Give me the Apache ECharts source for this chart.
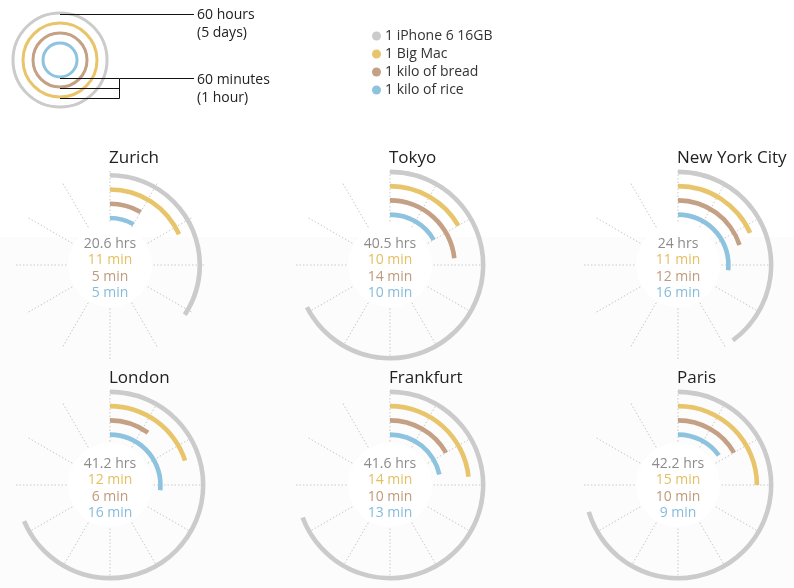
<!DOCTYPE html>
<html>
<head>
<meta charset="utf-8">
<script src="https://cdn.jsdelivr.net/npm/echarts@6/dist/echarts.min.js"></script>
<style>html,body{margin:0;padding:0;background:#fff}#c{width:794px;height:588px}</style>
</head>
<body>
<div id="c"></div>
<script>
// ---- data ----
const cities = ['Zurich', 'Tokyo', 'New York City', 'London', 'Frankfurt', 'Paris'];
const iphoneHours = [20.6, 40.5, 24, 41.2, 41.6, 42.2];
const bigMacMin = [11, 10, 11, 12, 14, 15];
const breadMin = [5, 14, 12, 6, 10, 10];
const riceMin = [5, 10, 16, 16, 13, 9];
const itemNames = ['1 iPhone 6 16GB', '1 Big Mac', '1 kilo of bread', '1 kilo of rice'];
const ringCats = ['rice', 'bread', 'bigmac', 'iphone'];   // inner -> outer
const scaleMax = 60;          // 60 hours for iPhone, 60 minutes for the rest
const keyTexts = [['60 hours', '(5 days)'], ['60 minutes', '(1 hour)']];

// ---- styling / layout ----
const colors = { iphone: '#cbcbcb', bigmac: '#e8c56b', bread: '#c4a085', rice: '#8dc3df' };
const textColors = { iphone: '#8c8c8c', bigmac: '#e3bf62', bread: '#bf9a7c', rice: '#86bcda' };
const centers = [[110, 265], [390, 265], [678, 265], [110, 485], [390, 485], [678, 485]];
const FONT = '"Open Sans", "Noto Sans", sans-serif';

const chart = echarts.init(document.getElementById('c'), null, { renderer: 'canvas' });

const polar = [], angleAxis = [], radiusAxis = [], series = [], graphic = [];

// background lower band + white discs
graphic.push({ type: 'rect', z: -2, shape: { x: 0, y: 237, width: 794, height: 351 }, style: { fill: '#fcfcfc' }, silent: true });
centers.forEach(c => graphic.push({ type: 'circle', z: -1, shape: { cx: c[0], cy: c[1], r: 42 }, style: { fill: '#ffffff' }, silent: true }));

// spoke polars (0..5)
centers.forEach((c, i) => {
  polar.push({ center: c, radius: [43, 94] });
  angleAxis.push({
    polarIndex: i, type: 'value', min: 0, max: scaleMax, interval: 5, startAngle: 90, clockwise: true, z: 1,
    axisLine: { show: false }, axisTick: { show: false }, axisLabel: { show: false },
    splitLine: { show: true, lineStyle: { color: '#c9c9c9', width: 1, type: [1.5, 2] } }
  });
  radiusAxis.push({ polarIndex: i, type: 'value', show: false });
});

// bar polars (6..11)
const seriesData = { iphone: iphoneHours, bigmac: bigMacMin, bread: breadMin, rice: riceMin };
const keys = ['iphone', 'bigmac', 'bread', 'rice'];

centers.forEach((c, i) => {
  const p = 6 + i;
  polar.push({ center: c, radius: [43.3, 100.3] });
  angleAxis.push({ polarIndex: p, type: 'value', min: 0, max: scaleMax, startAngle: 90, clockwise: true, show: false });
  radiusAxis.push({ polarIndex: p, type: 'category', data: ringCats, show: false });
  series.push({
    type: 'bar', name: cities[i], coordinateSystem: 'polar', polarIndex: p,
    barWidth: 4.6, z: 3, silent: true,
    data: ringCats.map(k => ({ value: seriesData[k][i], itemStyle: { color: colors[k] } }))
  });

  // title
  graphic.push({ type: 'text', z: 10, x: c[0] - 1, y: c[1] - 107,
    style: { text: cities[i], fill: '#222', font: '17px ' + FONT, textAlign: 'left', textVerticalAlign: 'middle' } });
  // values
  const lines = [
    [iphoneHours[i] + ' hrs', textColors.iphone],
    [bigMacMin[i] + ' min', textColors.bigmac],
    [breadMin[i] + ' min', textColors.bread],
    [riceMin[i] + ' min', textColors.rice]
  ];
  lines.forEach((l, j) => graphic.push({ type: 'text', z: 10, x: c[0], y: c[1] - 21 + j * 16.4,
    style: { text: l[0], fill: l[1], font: '14px ' + FONT, textAlign: 'center', textVerticalAlign: 'middle' } }));
});

// legend-only series (no data)
keys.forEach((k, j) => series.push({
  type: 'bar', name: itemNames[j], coordinateSystem: 'polar', polarIndex: 6,
  itemStyle: { color: colors[k] }, data: []
}));

// key (top-left)
const kc = [60, 60];
[['iphone', 47], ['bigmac', 37], ['bread', 27], ['rice', 17]].forEach(r =>
  graphic.push({ type: 'circle', z: 5, shape: { cx: kc[0], cy: kc[1], r: r[1] }, style: { fill: 'none', stroke: colors[r[0]], lineWidth: 3 }, silent: true }));
const ln = (x1, y1, x2, y2) => graphic.push({ type: 'line', z: 6, shape: { x1, y1, x2, y2 }, style: { stroke: '#111', lineWidth: 1 }, silent: true });
ln(60, 14.5, 194, 14.5);
ln(60, 78.5, 119.5, 78.5); ln(60, 88.5, 119.5, 88.5); ln(60, 98.5, 119.5, 98.5);
ln(119.5, 78.5, 119.5, 98.5); ln(119.5, 78.5, 194, 78.5);
[[keyTexts[0][0], 15], [keyTexts[0][1], 33], [keyTexts[1][0], 80], [keyTexts[1][1], 98]].forEach(t =>
  graphic.push({ type: 'text', z: 6, x: 197, y: t[1], style: { text: t[0], fill: '#222', font: '14px ' + FONT, textVerticalAlign: 'middle' } }));

const option = {
  animation: false,
  backgroundColor: '#fff',
  legend: {
    data: itemNames, orient: 'vertical', left: 367, top: 24, icon: 'circle',
    itemWidth: 9, itemHeight: 9, itemGap: 4, selectedMode: false,
    textStyle: { fontFamily: FONT, fontSize: 14, color: '#333', padding: [0, 0, 0, -1] }
  },
  polar, angleAxis, radiusAxis, series, graphic
};
chart.setOption(option);
</script>
</body>
</html>
